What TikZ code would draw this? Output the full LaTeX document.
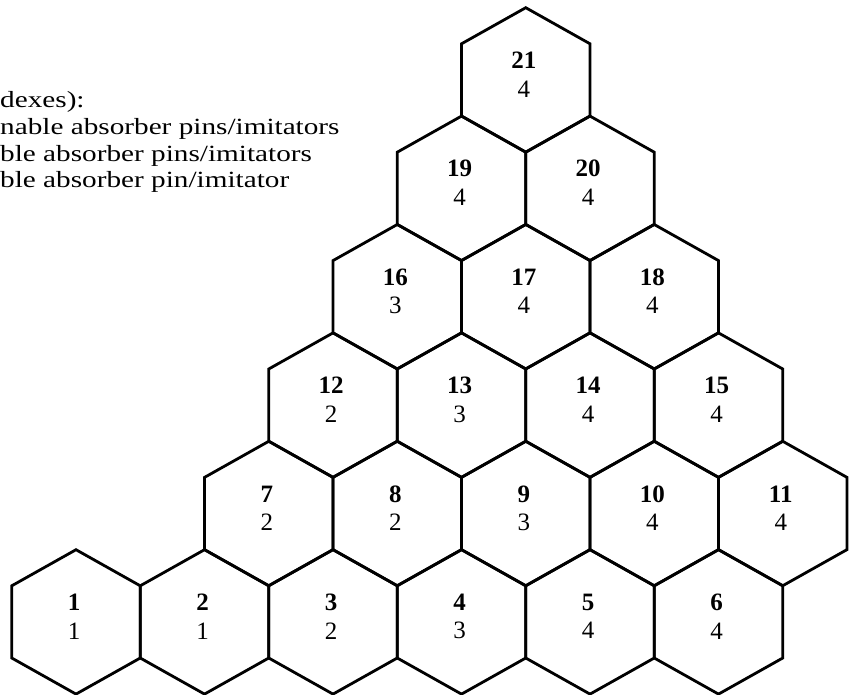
\documentclass[tikz,border=0pt]{standalone}
\usepackage{fontspec}
\setmainfont{Liberation Serif}
\newfontfamily\legendfont[FakeStretch=1.26]{Liberation Serif}
\usetikzlibrary{positioning}

\begin{document}
\begin{tikzpicture}[x=1pt, y=-1pt,
    hexline/.style={line width=2.8pt, line join=miter},
    hexlabel/.style={align=center, inner sep=0pt,
                     font=\fontsize{25}{28.5}\selectfont},
    legend/.style={anchor=base west, inner sep=0pt,
                   font=\legendfont\fontsize{23.2}{26}\selectfont}
]
\useasboundingbox (0,0) rectangle (853,695);
\clip (0,0) rectangle (853,695);
% Legend (cut at the left edge)
\node[legend] (leg1) at (0,108) {dexes):};
\node[legend] (leg2) at (0,135) {nable absorber pins/imitators};
\node[legend] (leg3) at (0,161) {ble absorber pins/imitators};
\node[legend] (leg4) at (0,187) {ble absorber pin/imitator};
% Hexes: column position / row / index / value
\foreach \p/\r/\num/\val in {
    0/0/1/1, 1/0/2/1, 2/0/3/2, 3/0/4/3, 4/0/5/4, 5/0/6/4,
    1.5/1/7/2, 2.5/1/8/2, 3.5/1/9/3, 4.5/1/10/4, 5.5/1/11/4,
    2/2/12/2, 3/2/13/3, 4/2/14/4, 5/2/15/4,
    2.5/3/16/3, 3.5/3/17/4, 4.5/3/18/4,
    3/4/19/4, 4/4/20/4,
    3.5/5/21/4}{
  \pgfmathsetmacro\cx{76+\p*128.5}
  \pgfmathsetmacro\cy{622-\r*108.4}
  \draw[hexline] (\cx,\cy) ++(0,-72.3) -- ++(64.25,36.1) -- ++(0,72.2)
      -- ++(-64.25,36.1) -- ++(-64.25,-36.1) -- ++(0,-72.2) -- cycle;
  \node[hexlabel] (hex\num) at (\cx-2,\cy-5.5) {\textbf{\num}\\\val};
}
\end{tikzpicture}
\end{document}
